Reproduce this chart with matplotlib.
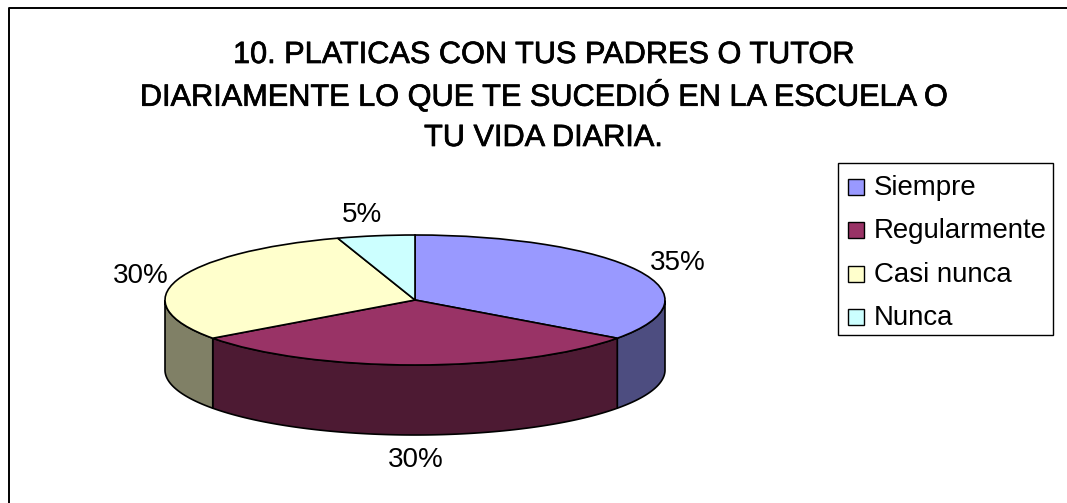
import numpy as np
import matplotlib
matplotlib.use("Agg")
import matplotlib.pyplot as plt
import matplotlib.patheffects as pe
from matplotlib.patches import Polygon, Rectangle

plt.rcParams['font.family'] = ['Liberation Sans', 'DejaVu Sans']

title_lines = ["10. PLATICAS CON TUS PADRES O TUTOR",
               "DIARIAMENTE LO QUE TE SUCEDIÓ EN LA ESCUELA O",
               "TU VIDA DIARIA."]
categories = ["Siempre", "Regularmente", "Casi nunca", "Nunca"]
values = [35, 30, 30, 5]
labels = ["35%", "30%", "30%", "5%"]
top_colors = ["#9999FF", "#993366", "#FFFFCC", "#CCFFFF"]
side_colors = ["#4D4D80", "#4D1A33", "#808066", "#668080"]

W, H = 1067, 503
fig = plt.figure(figsize=(W / 100, H / 100), dpi=100, facecolor="white")

# pixel-space overlay
bg = fig.add_axes([0, 0, 1, 1])
bg.set_xlim(0, W); bg.set_ylim(H, 0); bg.axis("off")
bg.plot([9, 9, W], [H, 8, 8], color="black", lw=1.4, zorder=1)

stroke = [pe.withStroke(linewidth=0.5, foreground="black")]
for line, y in zip(title_lines, [55, 96, 138]):
    bg.text(543, y, line, ha="center", va="center", fontsize=22.1, color="black",
            path_effects=stroke)

# pie: centre (415,300) px, radii 250x65 px, depth 70 px
cx, cy, rx, ry, depth = 415, 300, 250, 65, 70
ax = fig.add_axes([(cx - rx) / W, 1 - (cy + ry) / H, 2 * rx / W, 2 * ry / H])
ax.patch.set_alpha(0)

bg.set_zorder(0); ax.set_zorder(2)

fractions = np.array(values, dtype=float) / sum(values)
edges = 90 - 360 * np.concatenate([[0], np.cumsum(fractions)])

# side walls (front half only, lower half of the ellipse)
for i in range(len(values)):
    a0, a1 = edges[i], edges[i + 1]
    t = np.radians(np.linspace(a0, a1, 200))
    vis = np.sin(t) <= 0
    if not vis.any():
        continue
    t = t[vis]
    xs = cx + rx * np.cos(t)
    ys = cy - ry * np.sin(t)
    pts = np.r_[np.c_[xs, ys], np.c_[xs, ys + depth][::-1]]
    bg.add_patch(Polygon(pts, closed=True, facecolor=side_colors[i],
                         edgecolor="black", lw=1.2, zorder=2))

wedges, _ = ax.pie(values, colors=top_colors, startangle=90, counterclock=False,
                   radius=1, wedgeprops=dict(edgecolor="black", linewidth=1.2))
ax.set_aspect("auto")
ax.set_xlim(-1, 1); ax.set_ylim(-1, 1)
for w in wedges:
    w.set_clip_on(False)

# percent labels
for s, (x, y) in zip(labels, [(678, 263), (416, 460), (141, 276), (362, 215)]):
    bg.text(x, y, s, ha="center", va="center", fontsize=20, color="black")

# legend
bg.add_patch(Rectangle((838, 163), 215, 172, facecolor="white", edgecolor="black",
                       lw=1.0, zorder=3))
for name, col, y in zip(categories, top_colors, [187, 230, 274, 317]):
    bg.add_patch(Rectangle((848, y - 8), 16, 16, facecolor=col, edgecolor="black",
                           lw=1.0, zorder=4))
    bg.text(874, y + 1, name, ha="left", va="center", fontsize=19.9, color="black", zorder=4)

fig.savefig("out.png", dpi=100)
